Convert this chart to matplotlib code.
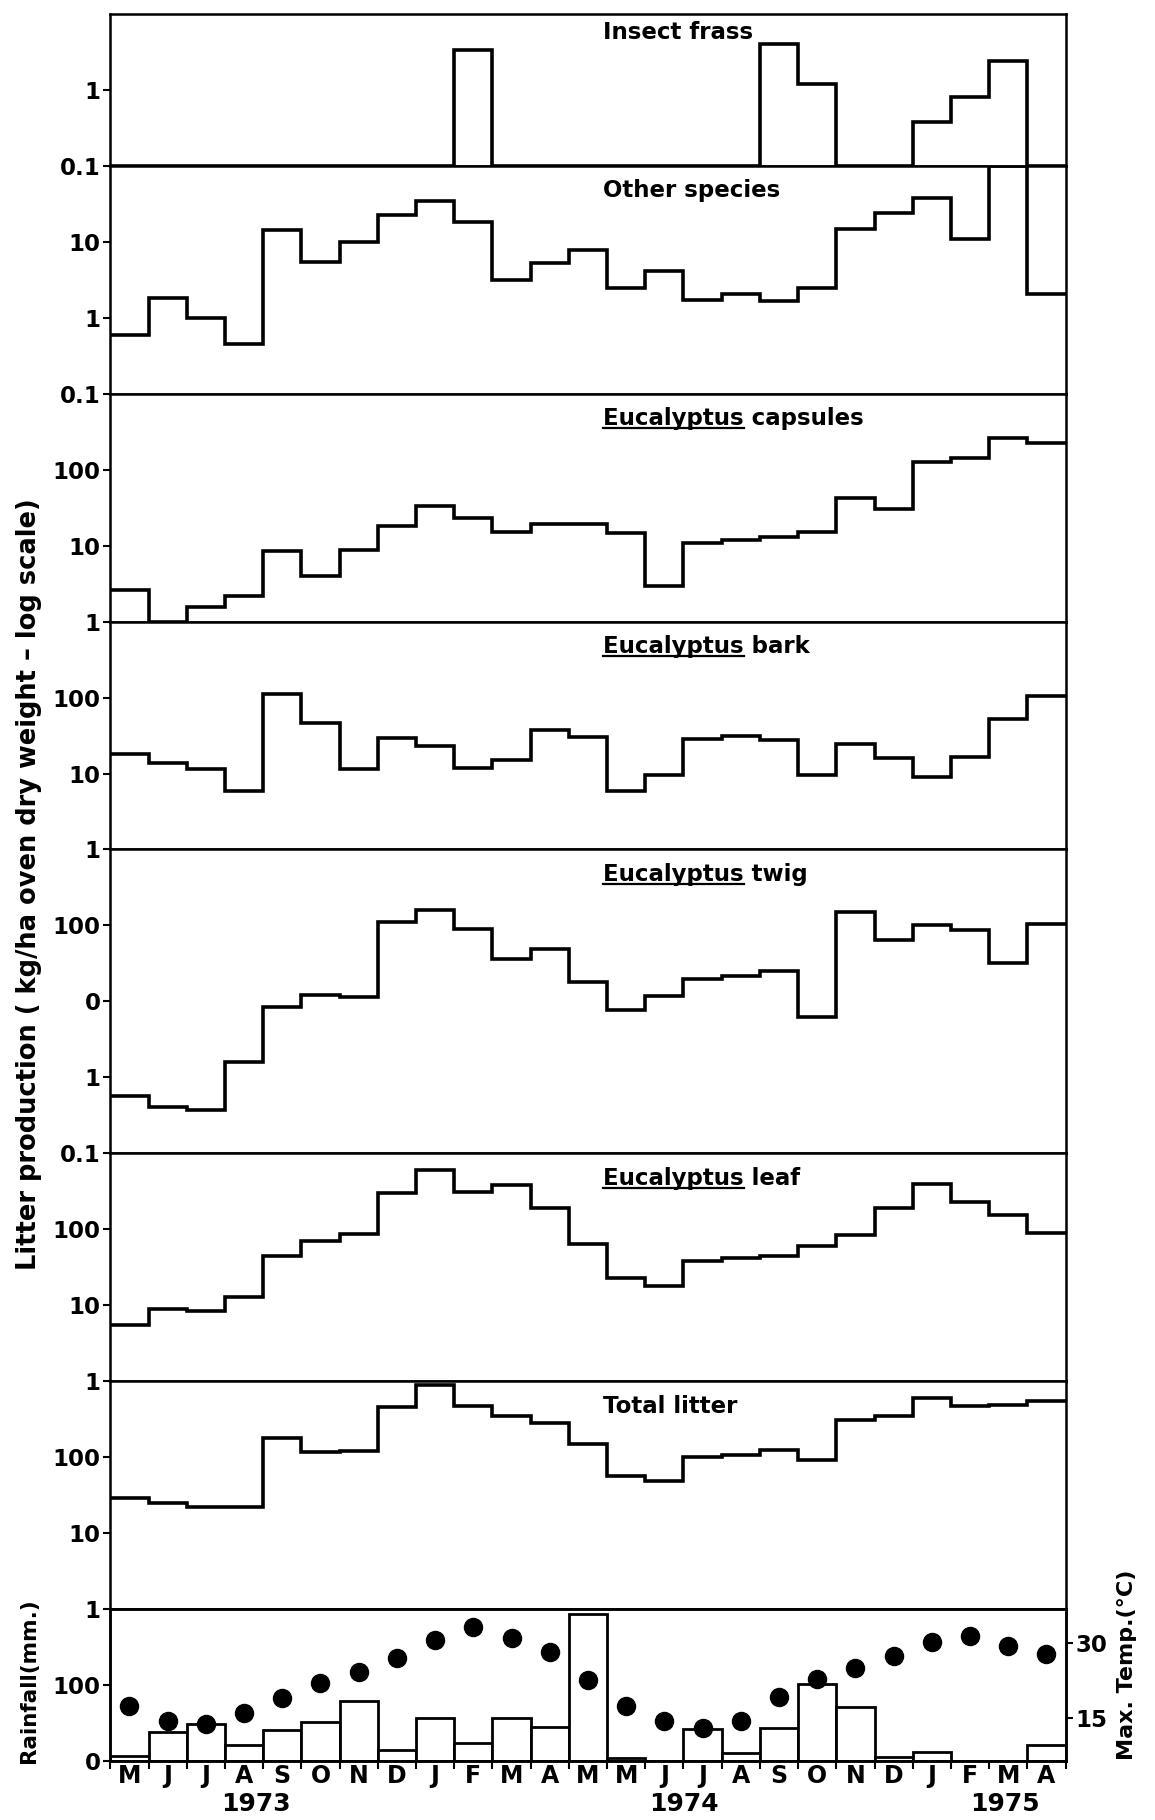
import numpy as np
import matplotlib
matplotlib.use('Agg')
import matplotlib.pyplot as plt
from matplotlib.ticker import NullLocator
from matplotlib.lines import Line2D

plt.rcParams['font.family'] = ['DejaVu Sans']
plt.rcParams['font.weight'] = 'bold'

# ---------------- data ----------------
months = ['M', 'J', 'J', 'A', 'S', 'O', 'N', 'D', 'J', 'F', 'M', 'A',
          'M', 'M', 'J', 'J', 'A', 'S', 'O', 'N', 'D', 'J', 'F', 'M', 'A']
years = ['1973', '1974', '1975']

insect_frass = [None] * 9 + [3.4] + [None] * 7 + [4.0, 1.2, None, None, 0.38, 0.8, 2.4, None]
other_species = [0.60, 1.8, 1.0, 0.45, 14.5, 5.5, 10, 22.5, 35, 18, 3.1, 5.3, 7.7,
                 2.5, 4.1, 1.73, 2.08, 1.68, 2.44, 14.8, 23.7, 38, 11, 100, 2.05]
euc_capsules = [2.6, 1.0, 1.58, 2.15, 8.6, 4.0, 8.75, 17.9, 33, 23, 15, 19.4, 19,
                14.7, 2.9, 10.7, 11.9, 13.2, 15, 42, 30.8, 125, 143, 264, 222]
euc_bark = [17.8, 13.8, 11.4, 5.8, 111, 45.8, 11.4, 29.6, 23.2, 11.9, 15, 37.4, 29.9,
            5.8, 9.7, 28.4, 31.5, 27.6, 9.5, 24.4, 15.8, 9.0, 16.6, 51.7, 106]
euc_twig = [0.57, 0.41, 0.37, 1.58, 8.4, 12.3, 11.3, 111, 158, 90, 36, 49, 17.9,
            7.7, 11.7, 19.4, 21.5, 25.1, 6.2, 150, 64, 100, 87.5, 32.4, 105]
euc_leaf = [5.5, 8.85, 8.4, 12.9, 45, 70, 87.5, 297, 606, 313, 384, 192, 64.6,
            22.6, 18, 38.7, 41.6, 43.8, 60, 83, 192, 392, 226, 153, 90]
total_litter = [28.7, 25.2, 22.3, 22.3, 178, 116, 119, 453, 877, 467, 352, 281, 149,
                57, 47.7, 99, 107, 123, 92, 311, 345, 603, 476, 482, 545]
rainfall = [6, 38, 48, 21, 41, 51, 79, 14, 56, 24, 56, 45, 194,
            4, 0, 42, 10, 43, 101, 71, 5, 12, 0, 0, 21]
max_temp = [17.4, 14.4, 13.9, 16.1, 19.1, 22.0, 24.3, 27.0, 30.6, 33.1, 31.1, 28.2, 22.7,
            17.4, 14.5, 13.0, 14.5, 19.3, 22.8, 25.1, 27.5, 30.2, 31.4, 29.5, 27.8]

panels = [
    # (underlined prefix, rest of title, values, ylim, ticks, ticklabels)
    ('', 'Insect frass', insect_frass, (0.1, 10), [0.1, 1], ['0.1', '1']),
    ('', 'Other species', other_species, (0.1, 100), [0.1, 1, 10], ['0.1', '1', '10']),
    ('Eucalyptus', ' capsules', euc_capsules, (1, 1000), [1, 10, 100], ['1', '10', '100']),
    ('Eucalyptus', ' bark', euc_bark, (1, 1000), [1, 10, 100], ['1', '10', '100']),
    ('Eucalyptus', ' twig', euc_twig, (0.1, 1000), [0.1, 1, 10, 100], ['0.1', '1', '0', '100']),
    ('Eucalyptus', ' leaf', euc_leaf, (1, 1000), [1, 10, 100], ['1', '10', '100']),
    ('', 'Total litter', total_litter, (1, 1000), [1, 10, 100], ['1', '10', '100']),
]

# ---------------- layout ----------------
fig = plt.figure(figsize=(11.55, 18.2), dpi=100)
gs = fig.add_gridspec(8, 1, height_ratios=[2, 3, 3, 3, 4, 3, 3, 2], hspace=0,
                      left=0.0955, right=0.9226, top=0.9923, bottom=0.0325)
n = len(months)
edges = np.arange(n + 1)
centers = edges[:-1] + 0.5
LW = 2.6
SPW = 1.8
TITLE_X = 12.9
TFS = 16.5
YFS = 16.5

axes = []
titles = []
for i, (pre, rest, vals, ylim, ticks, tl) in enumerate(panels):
    ax = fig.add_subplot(gs[i])
    axes.append(ax)
    ax.set_yscale('log')
    ax.set_xlim(0, n)
    ax.set_ylim(*ylim)
    if i == 0:
        v = np.array([ylim[0] if x is None else x for x in vals], dtype=float)
        ax.stairs(v, edges, baseline=ylim[0], color='k', lw=LW)
    else:
        ax.stairs(np.array(vals, dtype=float), edges, baseline=None, color='k', lw=LW)
    ax.set_yticks(ticks)
    ax.set_yticklabels(tl)
    ax.yaxis.set_minor_locator(NullLocator())
    ax.set_xticks([])
    ax.tick_params(axis='y', direction='out', length=5, width=1.5, labelsize=YFS, pad=2)
    for s in ax.spines.values():
        s.set_linewidth(SPW)
    off = -13 if i == 0 else -18
    ax.annotate(pre + rest, xy=(TITLE_X, 1), xycoords=('data', 'axes fraction'),
                xytext=(0, off), textcoords='offset points', ha='left', va='center',
                fontsize=TFS, fontweight='bold')
    if pre:
        h = ax.annotate(pre, xy=(TITLE_X, 1), xycoords=('data', 'axes fraction'),
                        xytext=(0, off), textcoords='offset points', ha='left', va='center',
                        fontsize=TFS, fontweight='bold', alpha=0)
        titles.append(h)

# rainfall / temperature panel
axr = fig.add_subplot(gs[7])
axr.bar(centers, rainfall, width=1.0, bottom=0, facecolor='white', edgecolor='k', lw=2.0)
axr.set_xlim(0, n)
axr.set_ylim(0, 200)
axr.set_yticks([0, 100])
axr.set_yticklabels(['0', '100'])
axr.tick_params(axis='y', direction='out', length=5, width=1.5, labelsize=YFS, pad=2)
axr.set_xticks(edges)
axr.set_xticklabels([''] * len(edges))
axr.set_xticks(centers, minor=True)
axr.set_xticklabels(months, minor=True)
axr.tick_params(axis='x', which='major', direction='out', length=6, width=1.5)
axr.tick_params(axis='x', which='minor', length=0, labelsize=17, pad=2)
for s in axr.spines.values():
    s.set_linewidth(SPW)

axt = axr.twinx()
axt.plot(centers, max_temp, 'o', color='k', ms=13, zorder=5)
axt.set_ylim(6.5, 36.8)
axt.set_yticks([15, 30])
axt.set_yticklabels(['15', '30'])
axt.tick_params(axis='y', direction='out', length=5, width=1.5, labelsize=YFS, pad=2)
for s in axt.spines.values():
    s.set_linewidth(SPW)

year_pos = [3.8, 15.0, 23.4]
for yr, xp in zip(years, year_pos):
    axr.annotate(yr, xy=(xp, 0), xycoords=('data', 'axes fraction'),
                 xytext=(0, -31), textcoords='offset points', ha='center', va='center',
                 fontsize=18, fontweight='bold')

fig.text(0.025, 0.514, 'Litter production ( kg/ha oven dry weight \u2013 log scale)',
         rotation=90, ha='center', va='center', fontsize=18.5, fontweight='bold')
fig.text(0.025, 0.0765, 'Rainfall(mm.)', rotation=90, ha='center', va='center',
         fontsize=15.5, fontweight='bold')
fig.text(0.976, 0.085, 'Max. Temp.(\u00b0C)', rotation=90, ha='center', va='center',
         fontsize=16, fontweight='bold')

# underline "Eucalyptus"
fig.canvas.draw()
renderer = fig.canvas.get_renderer()
inv = fig.transFigure.inverted()
for h in titles:
    bb = h.get_window_extent(renderer)
    y = bb.y0 + 2
    (x0, yy), (x1, _) = inv.transform([(bb.x0, y), (bb.x1, y)])
    fig.add_artist(Line2D([x0, x1], [yy, yy], transform=fig.transFigure, color='k', lw=1.6))

fig.savefig('out.png', dpi=100)
